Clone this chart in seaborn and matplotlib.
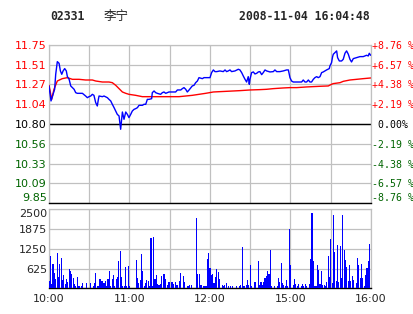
import numpy as np
import pandas as pd
import matplotlib
matplotlib.use("Agg")
import matplotlib.pyplot as plt
import seaborn as sns

sns.set_theme(style="white")
plt.rcParams['font.family'] = ['DejaVu Sans', 'Noto Sans CJK SC']

# ---------------- data ----------------
stock_code = "02331"
stock_name = "李宁"
stamp = "2008-11-04 16:04:48"
prev_close = 10.80
pct_ticks = [8.76, 6.57, 4.38, 2.19, 0.00, -2.19, -4.38, -6.57, -8.76]
price_labels = ["11.75", "11.51", "11.27", "11.04", "10.80", "10.56", "10.33", "10.09", "9.85"]
pct_labels = ["+8.76 %", "+6.57 %", "+4.38 %", "+2.19 %", " 0.00%", "-2.19 %", "-4.38 %", "-6.57 %", "-8.76 %"]
time_ticks = [0, 60, 120, 180, 240]
time_labels = ["10:00", "11:00", "12:00", "15:00", "16:00"]
vol_ticks = [625, 1250, 1875, 2500]
vol_labels = ["625", "1250", "1875", "2500"]

# trading minutes since 10:00 (lunch break removed) and last price
price_min = [0, 1.5, 3.0, 4.2, 5.0, 6.2, 7.5, 8.5, 9.5, 10.5,
             11.7, 12.9, 13.7, 15.0, 16.2, 17.4, 18.7, 19.9, 21.1, 24.9,
             27.3, 28.6, 29.8, 31.1, 32.3, 33.5, 34.8, 36.0, 36.8, 37.3,
             39.8, 41.0, 43.5, 44.7, 46.0, 47.2, 48.5, 49.7, 50.9, 52.2,
             53.4, 54.7, 55.9, 57.2, 58.4, 59.6, 60.9, 62.1, 63.4, 64.6,
             65.9, 67.1, 69.6, 70.8, 72.1, 73.3, 74.5, 76.5, 77.0, 78.3,
             79.5, 80.7, 83.2, 84.5, 85.7, 87.0, 88.2, 89.4, 94.4, 95.7,
             98.2, 99.4, 100.6, 101.9, 103.1, 104.4, 106.8, 108.1, 109.3, 110.6,
             111.8, 114.3, 115.5, 120.0, 121.2, 122.5, 123.7, 125.0, 127.4, 129.9,
             131.2, 132.4, 133.6, 134.9, 136.1, 138.6, 141.1, 142.3, 143.6, 144.8,
             146.1, 147.3, 148.5, 149.3, 149.8, 151.0, 152.3, 153.5, 154.8, 156.0,
             157.2, 158.5, 159.7, 161.0, 162.2, 164.7, 167.2, 168.4, 169.7, 172.1,
             174.6, 177.1, 178.4, 179.6, 180.8, 182.1, 185.8, 188.3, 189.5, 190.8,
             192.0, 193.3, 194.5, 195.7, 197.0, 198.2, 199.5, 200.7, 202.0, 203.2,
             204.4, 205.7, 206.9, 208.9, 209.4, 210.6, 211.4, 211.9, 213.1, 214.4,
             215.1, 216.4, 218.1, 219.3, 220.6, 221.8, 223.1, 224.3, 225.5, 226.8,
             229.3, 231.8, 234.2, 236.7, 238.0, 238.7, 239.7]
price_val = [11.254, 11.075, 11.154, 11.214, 11.393, 11.544, 11.524, 11.433, 11.393, 11.433,
             11.461, 11.433, 11.365, 11.333, 11.254, 11.234, 11.214, 11.174, 11.166, 11.166,
             11.134, 11.114, 11.126, 11.134, 11.154, 11.142, 11.055, 11.015, 11.094, 11.134,
             11.126, 11.134, 11.114, 11.094, 11.075, 11.035, 10.995, 10.955, 10.915, 10.896,
             10.737, 10.943, 10.856, 10.943, 10.915, 10.876, 10.915, 10.955, 10.975, 10.983,
             10.995, 11.023, 11.023, 11.035, 11.035, 11.094, 11.094, 11.102, 11.174, 11.194,
             11.174, 11.166, 11.154, 11.174, 11.182, 11.166, 11.174, 11.182, 11.182, 11.206,
             11.206, 11.222, 11.234, 11.214, 11.182, 11.206, 11.254, 11.262, 11.293, 11.313,
             11.353, 11.341, 11.353, 11.353, 11.413, 11.445, 11.425, 11.425, 11.433, 11.425,
             11.445, 11.425, 11.433, 11.445, 11.425, 11.433, 11.453, 11.445, 11.413, 11.373,
             11.333, 11.301, 11.365, 11.274, 11.333, 11.413, 11.421, 11.397, 11.405, 11.421,
             11.425, 11.389, 11.413, 11.445, 11.433, 11.421, 11.425, 11.445, 11.425, 11.425,
             11.433, 11.445, 11.445, 11.353, 11.313, 11.301, 11.301, 11.301, 11.325, 11.301,
             11.301, 11.325, 11.301, 11.301, 11.333, 11.353, 11.365, 11.353, 11.365, 11.413,
             11.421, 11.433, 11.445, 11.461, 11.493, 11.532, 11.604, 11.632, 11.652, 11.672,
             11.592, 11.552, 11.552, 11.572, 11.644, 11.672, 11.632, 11.572, 11.540, 11.580,
             11.592, 11.604, 11.604, 11.620, 11.612, 11.644, 11.620]

# average price line
avg_min = [0, 2.0, 3.7, 6.2, 9.9, 13.7, 17.4, 22.4, 27.3, 32.3,
           34.8, 39.8, 44.7, 47.2, 49.7, 52.2, 54.7, 57.2, 59.6, 64.6,
           69.6, 74.5, 84.5, 96.9, 101.9, 106.8, 111.8, 116.8, 122.5, 127.4,
           132.4, 137.4, 142.3, 149.8, 157.2, 162.2, 167.2, 174.6, 179.6, 184.6,
           192.0, 202.0, 208.2, 210.6, 211.9, 216.9, 219.3, 224.3, 229.3, 234.2, 239.7]
avg_val = [11.262, 11.094, 11.214, 11.313, 11.341, 11.353, 11.333, 11.333, 11.325, 11.325,
           11.313, 11.301, 11.301, 11.293, 11.262, 11.222, 11.182, 11.166, 11.154, 11.142,
           11.126, 11.126, 11.126, 11.126, 11.134, 11.142, 11.154, 11.166, 11.182, 11.186,
           11.190, 11.194, 11.198, 11.206, 11.210, 11.214, 11.222, 11.230, 11.234, 11.234,
           11.242, 11.250, 11.254, 11.274, 11.282, 11.293, 11.309, 11.325, 11.333, 11.341, 11.349]

# per-minute volume (minutes 0..239)
volume = [230, 1020, 150, 770, 495, 305, 1130, 360, 770, 960,
          264, 420, 137, 295, 210, 610, 560, 450, 316, 137,
          60, 350, 60, 60, 60, 180, 0, 0, 180, 0,
          0, 180, 0, 60, 180, 495, 60, 80, 305, 230,
          230, 160, 220, 60, 305, 560, 60, 305, 420, 60,
          305, 370, 865, 1180, 350, 60, 60, 665, 60, 705,
          60, 0, 0, 0, 0, 895, 316, 160, 264, 1085,
          560, 60, 160, 250, 240, 60, 1580, 60, 1610, 285,
          430, 148, 120, 148, 390, 450, 450, 295, 120, 190,
          190, 190, 190, 148, 190, 105, 105, 230, 485, 0,
          390, 190, 0, 60, 60, 105, 105, 0, 0, 0,
          2235, 440, 440, 120, 105, 60, 60, 60, 930, 1110,
          630, 420, 450, 170, 360, 600, 530, 295, 0, 120,
          60, 120, 170, 0, 60, 60, 0, 60, 0, 0,
          60, 0, 60, 105, 1310, 60, 60, 120, 265, 105,
          740, 60, 0, 190, 190, 0, 865, 105, 190, 105,
          210, 340, 380, 550, 440, 1213, 60, 0, 60, 0,
          60, 340, 190, 790, 170, 120, 60, 250, 60, 1880,
          740, 0, 120, 295, 148, 60, 148, 0, 60, 148,
          60, 148, 60, 0, 148, 930, 2385, 865, 60, 60,
          740, 580, 148, 550, 105, 120, 60, 190, 1020, 360,
          1560, 170, 2320, 1160, 230, 1370, 210, 1340, 340, 2320,
          1213, 895, 685, 230, 740, 230, 400, 265, 0, 170,
          970, 740, 340, 760, 340, 80, 420, 655, 865, 1390]
vol_minute = list(range(len(volume)))

# ---------------- styling ----------------
RED = "#ff0000"
GREEN = "#006400"
GRID = "#c0c0c0"
label_colors = [RED, RED, RED, RED, "black", GREEN, GREEN, GREEN, GREEN]

W, H = 414, 314
fig = plt.figure(figsize=(W / 100, H / 100), dpi=100)
fig.patch.set_facecolor("white")

ax1 = fig.add_axes([49 / W, 1 - 203.3 / H, 322 / W, 158.6 / H])
ax2 = fig.add_axes([49 / W, 1 - 288.3 / H, 322 / W, 79.0 / H])

tick_vals = [prev_close * (1 + p / 100) for p in pct_ticks]
ylo = prev_close * (1 - 0.0876)
yhi = prev_close * (1 + 0.0876)

# ---- price panel ----
ax1.set_axisbelow(True)
ax1.set_xlim(0, 240)
ax1.set_ylim(ylo, yhi)
ax1.set_xticks(range(0, 241, 30))
ax1.set_xticklabels([])
ax1.set_yticks(tick_vals)
ax1.set_yticklabels(price_labels, fontsize=8)
for lab, c in zip(ax1.get_yticklabels(), label_colors):
    lab.set_color(c)
ax1.get_yticklabels()[-1].set_verticalalignment("bottom")
ax1.grid(True, color=GRID, linewidth=0.9)
ax1.tick_params(length=0, pad=1.5)
ax1.axhline(prev_close, color="black", linewidth=1.0, zorder=1.5)

sns.lineplot(x=avg_min, y=avg_val, ax=ax1, color=RED, linewidth=1.0,
             errorbar=None, sort=False, zorder=3)
sns.lineplot(x=price_min, y=price_val, ax=ax1, color="#0000ff", linewidth=1.0,
             errorbar=None, sort=False, zorder=4)
ax1.set_xlabel("")
ax1.set_ylabel("")

for side in ["top", "left", "right"]:
    ax1.spines[side].set_color(GRID)
    ax1.spines[side].set_linewidth(0.9)
ax1.spines["bottom"].set_color("black")
ax1.spines["bottom"].set_linewidth(1.0)

ax1r = ax1.twinx()
ax1r.set_ylim(ylo, yhi)
ax1r.set_yticks(tick_vals)
ax1r.set_yticklabels(pct_labels, fontsize=7.1, family="DejaVu Sans Mono")
for lab, c in zip(ax1r.get_yticklabels(), label_colors):
    lab.set_color(c)
ax1r.get_yticklabels()[-1].set_verticalalignment("bottom")
ax1r.tick_params(length=0, pad=1)
for s in ax1r.spines.values():
    s.set_visible(False)
ax1r.grid(False)

# ---- volume panel ----
vdf = pd.DataFrame({"minute": vol_minute, "volume": volume})
sns.barplot(data=vdf, x="minute", y="volume", ax=ax2, native_scale=True,
            color="#0000ff", saturation=1, width=0.8, errorbar=None,
            linewidth=0, zorder=3)
ax2.set_axisbelow(True)
ax2.set_xlim(0, 240)
ax2.set_ylim(0, 2500)
ax2.set_xticks(range(0, 241, 30))
ax2.set_xticklabels(["10:00", "", "11:00", "", "12:00", "", "15:00", "", "16:00"], fontsize=8)
ax2.set_yticks([0] + vol_ticks)
ax2.set_yticklabels([""] + vol_labels, fontsize=8)
ax2.get_yticklabels()[-1].set_verticalalignment("top")
ax2.grid(True, color=GRID, linewidth=0.9)
ax2.tick_params(length=0, pad=1.5)
ax2.tick_params(axis="x", pad=4)
ax2.set_xlabel("")
ax2.set_ylabel("")
for side in ["top", "left", "right"]:
    ax2.spines[side].set_color(GRID)
    ax2.spines[side].set_linewidth(0.9)
ax2.spines["bottom"].set_color("black")
ax2.spines["bottom"].set_linewidth(1.0)

# ---- header ----
ty = 1 - 16.5 / H
fig.text(50 / W, ty, stock_code, family="DejaVu Sans Mono", fontweight="bold",
         fontsize=8.3, va="center", ha="left")
fig.text(104 / W, ty, stock_name, family=["Noto Sans CJK SC", "DejaVu Sans"],
         fontsize=9, va="center", ha="left")
fig.text(370 / W, ty, stamp, family="DejaVu Sans Mono", fontweight="bold",
         fontsize=8.3, va="center", ha="right")

fig.savefig("out.png", dpi=100, facecolor="white")
